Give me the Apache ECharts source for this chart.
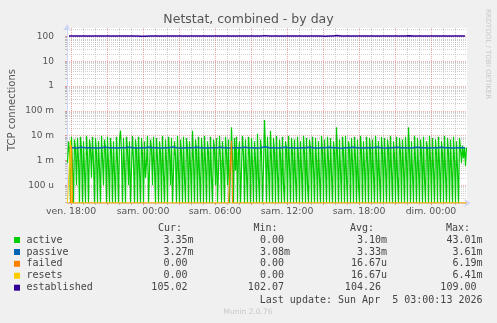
<!DOCTYPE html>
<html><head><meta charset="utf-8">
<script src="https://cdn.jsdelivr.net/npm/echarts@6/dist/echarts.min.js"></script>
<style>html,body{margin:0;padding:0;background:#f0f0f0}#c{width:497px;height:323px}</style>
</head><body><div id="c"></div>
<script>
// ---------------- data ----------------
// x axis in hours since Friday 00:00; one sample every 5 minutes
const sampleStepHours = 5 / 60;
const timeStart = 17 + 40 / 60;   // Fri 17:40
const timeEnd = 51;               // Sun 03:00

const xTickValues = [18, 24, 30, 36, 42, 48];
const xTickLabels = ['ven. 18:00', 'sam. 00:00', 'sam. 06:00', 'sam. 12:00', 'sam. 18:00', 'dim. 00:00'];
const yTickValues = [1e-4, 1e-3, 1e-2, 1e-1, 1, 10, 100];
const yTickLabels = ['100 u', '1 m', '10 m', '100 m', '1', '10', '100'];

// active connections per second, in milli-units, 5-min samples (400)
const activeMilli = [
0.8,6,2,0,9,0.5,0,7,3,0.1,
8,1,0,9,2.5,0,6,0.4,0,10,
1.5,0,7,3,0.2,9,0.8,0,8,2,
0,6,0.5,0,10,1.2,0.1,7,3,0,
9,0.6,0,8,2,0,6,0.3,0,9,
1,0,7,16,2,0,8,0.5,0,9,
3,0.1,6,0,0,10,1,0,7,2.5,
0,9,0.4,0,8,1.8,0,6,0.2,0.8,
10,0,0,7,3,0.1,9,0.5,0,8,
1.2,0,6,2,0,10,0.3,0,7,1,
0,9,2.2,0.1,8,0,0,6,1.5,0,
10,0.4,0,7,2,0,9,0.2,0,8,
3,0,6,0.6,0,16,1,0,7,2.4,
0,9,0.3,0,8,1.5,0,10,0.8,0,
6,2,0,9,0.2,0,7,3,0.1,8,
0,0,10,1,0,6,0.5,0,9,2,
0.1,7,0,0.5,22,1.2,0,8,0.4,9,
0,2,6,0,0,10,1.8,0,7,0.3,
0,9,2,0,8,0.6,0,6,1,0,
12,0.2,0,7,2.6,0,0.5,43,3,0,
9,0.4,0,16,1,0,8,2,0,10,
0.3,0,7,1.5,0,9,0.1,0,6,3,
0,10,0.7,0,8,2,0,7,0.2,0,
9,1.2,0,6,0.4,0,10,2,0,8,
0.1,0,7,3,0,9,0.5,0,8,1,
0,6,0.2,0,10,2.2,0,7,0.6,0,
9,1,0,8,0.3,0,6,2,0,22,
1.5,0,7,0.4,0,9,2,0,10,0.2,
0,6,3,0,8,0.8,0,9,1.2,0,
7,0.1,0,10,2,0,6,0.5,0,9,
1,0,8,2.5,0,7,0.3,0,10,1.6,
0,6,0.2,0,9,2,0,8,0.6,0,
7,3,0,10,0.4,0,6,1.4,0,9,
0.2,0,8,2,0,7,0.5,0,9,1,
0,22,2.4,0,6,0.3,0,10,1,0,
8,0.5,0,7,2,0,9,0.2,0,6,
3,0,10,1,0,8,0.4,0,7,2,
0,9,0.6,0,6,1.8,0,10,0.3,0,
8,2,0,7,0.5,0,9,1,0,6,
0.4,0,8,3,0.8,4,1.2,3.5,0.6,3.35
];

// passive, milli-units, 20-min samples (100)
const passiveMilli = [
3.3,3.3,3.2,3.4,3.3,3.3,3.3,3.2,3.3,3.4,
3.3,3.3,3.2,3.3,3.3,3.4,3.3,3.2,3.3,3.3,
3.4,3.3,3.3,3.2,3.3,3.3,3.5,3.3,3.2,3.3,
3.3,3.3,3.4,3.3,3.2,3.3,3.3,3.3,3.4,3.3,
3.2,3.3,3.3,3.3,3.4,3.3,3.3,3.2,3.3,3.6,
3.3,3.3,3.2,3.3,3.4,3.3,3.3,3.2,3.3,3.3,
3.4,3.3,3.2,3.3,3.3,3.4,3.3,3.3,3.1,3.3,
3.3,3.4,3.3,3.2,3.3,3.3,3.3,3.4,3.3,3.2,
3.3,3.3,3.4,3.3,3.3,3.2,3.3,3.4,3.3,3.3,
3.2,3.3,3.3,3.4,3.3,3.3,3.2,3.3,3.3,3.27
];

// established, 20-min samples (100)
const establishedVals = [
104.2,104.5,103.9,104.1,104.6,104.0,103.8,104.3,104.4,104.1,
103.7,104.0,104.2,104.5,104.1,103.9,104.3,104.0,102.9,103.6,
104.1,104.4,104.2,103.8,104.0,104.3,104.6,104.1,103.9,104.2,
104.0,104.5,104.3,103.7,104.1,104.2,104.4,104.0,103.9,104.3,
104.5,104.1,104.0,104.2,103.8,104.4,104.3,104.1,104.0,108.5,
104.6,104.2,103.9,104.1,104.3,104.0,104.5,104.2,103.8,104.1,
104.3,104.4,104.0,104.2,102.1,104.1,104.3,109.0,104.4,104.0,
104.2,104.1,103.9,104.3,104.5,104.0,104.2,104.1,103.8,104.4,
104.3,104.0,104.2,104.5,104.1,107.8,104.3,104.0,104.2,104.4,
104.1,103.9,104.3,104.5,104.2,104.0,104.4,104.6,104.8,105.02
];

// failed / resets: non-zero 5-min samples (index, milli-units); all others are 0
const failedIdx = [4, 164];
const failedMilli = [4.0, 6.19];
const resetsIdx = [3];
const resetsMilli = [6.41];

// legend table
const seriesNames = ['active', 'passive', 'failed', 'resets', 'established'];
const seriesColors = ['#00CC00', '#0066B3', '#FF8000', '#FFCC00', '#330099'];
const statCur = ['3.35m', '3.27m', '0.00 ', '0.00 ', '105.02 '];
const statMin = ['0.00 ', '3.08m', '0.00 ', '0.00 ', '102.07 '];
const statAvg = ['3.10m', '3.33m', '16.67u', '16.67u', '104.26 '];
const statMax = ['43.01m', '3.61m', '6.19m', '6.41m', '109.00 '];
const statHeaders = ['Cur:', 'Min:', 'Avg:', 'Max:'];

// ---------------- chart ----------------
const Y_MIN = -4.713, Y_MAX = 2.343;        // log10 extent of the plot
const FLOOR = Math.pow(10, Y_MIN);
const lg = v => Math.log10(Math.max(v, FLOOR));

const fineCount = activeMilli.length;
const tFine = i => timeStart + (i + 0.5) * sampleStepHours;
const tCoarse = j => timeStart + (4 * j + 2) * sampleStepHours;

const activeData = activeMilli.map((v, i) => [tFine(i), lg(v / 1000)]);
const passiveData = passiveMilli.map((v, j) => [tCoarse(j), lg(v / 1000)]);
const establishedData = establishedVals.map((v, j) => [tCoarse(j), lg(v)]);
function expand(idx, vals) {
  const arr = new Array(fineCount).fill(0);
  idx.forEach((k, n) => { arr[k] = vals[n]; });
  return arr.map((v, i) => [tFine(i), lg(v / 1000)]);
}
const failedData = expand(failedIdx, failedMilli);
const resetsData = expand(resetsIdx, resetsMilli);

// grid positions (log values)
const yMajor = yTickValues.map(v => Math.log10(v));
const yMinor = [];
for (let e = -5; e <= 2; e++) for (let k = 2; k <= 9; k++) {
  const l = Math.log10(k * Math.pow(10, e));
  if (l > Y_MIN && l < Y_MAX) yMinor.push(l);
}
const xMajor = [], xMinor = [];
for (let h = 18; h <= 50; h++) { if (h % 3 === 0) xMajor.push(h); else xMinor.push(h); }

const FONT = 'DejaVu Sans', MONO = 'DejaVu Sans Mono';
const MAJ = 'rgba(226,110,110,0.55)', MIN = 'rgba(150,150,150,0.45)', AXIS = '#CFD6F8';

const chart = echarts.init(document.getElementById('c'), null, { renderer: 'canvas' });

const grid = { left: 67, top: 28, width: 400, height: 175, show: true, backgroundColor: '#ffffff', borderWidth: 0 };

const xBase = { type: 'value', min: timeStart, max: timeEnd, position: 'bottom', gridIndex: 0 };
const yBase = { type: 'value', min: Y_MIN, max: Y_MAX, position: 'left', gridIndex: 0 };

const graphics = [];
graphics.push({ type: 'text', x: 12, y: 110, rotation: Math.PI / 2,
  style: { text: 'TCP connections', font: '10px ' + FONT, fill: '#555', align: 'center', verticalAlign: 'middle' } });
graphics.push({ type: 'text', x: 488, y: 54, rotation: -Math.PI / 2,
  style: { text: 'RRDTOOL / TOBI OETIKER', font: '7px ' + FONT, fill: '#c8c8c8', align: 'center', verticalAlign: 'middle' } });
const colRight = [193.5, 290, 387, 482.5];
const headRight = [182, 277.5, 374, 470];
statHeaders.forEach((h, c) => graphics.push({ type: 'text', x: headRight[c], y: 228,
  style: { text: h, font: '10px ' + MONO, fill: '#444', align: 'right', verticalAlign: 'middle' } }));
const rowY = [240, 252, 263.8, 275.7, 287.7];
seriesNames.forEach((name, r) => {
  graphics.push({ type: 'rect', shape: { x: 14, y: rowY[r] - 3, width: 6, height: 6 }, style: { fill: seriesColors[r] } });
  graphics.push({ type: 'text', x: 26.5, y: rowY[r],
    style: { text: name, font: '10px ' + MONO, fill: '#444', align: 'left', verticalAlign: 'middle' } });
  [statCur, statMin, statAvg, statMax].forEach((col, c) => graphics.push({ type: 'text', x: colRight[c], y: rowY[r],
    style: { text: col[r], font: '10px ' + MONO, fill: '#444', align: 'right', verticalAlign: 'middle' } }));
});
graphics.push({ type: 'text', x: 482.5, y: 300,
  style: { text: 'Last update: Sun Apr  5 03:00:13 2026', font: '10px ' + MONO, fill: '#444', align: 'right', verticalAlign: 'middle' } });
graphics.push({ type: 'text', x: 248, y: 312,
  style: { text: 'Munin 2.0.76', font: '7.5px ' + FONT, fill: '#c8c8c8', align: 'center', verticalAlign: 'middle' } });

const lineS = (name, data, color, w) => ({
  name, type: 'line', data, xAxisIndex: 1, yAxisIndex: 1, showSymbol: false, symbol: 'none',
  lineStyle: { color, width: w }, itemStyle: { color }, clip: true, animation: false, silent: true
});

chart.setOption({
  animation: false,
  backgroundColor: '#f0f0f0',
  title: { text: 'Netstat, combined - by day', left: 'center', top: 8,
    textStyle: { fontFamily: FONT, fontSize: 12.5, fontWeight: 'normal', color: '#555' } },
  grid,
  xAxis: [
    Object.assign({}, xBase, {
      axisLine: { show: false, onZero: false }, axisLabel: { show: false },
      axisTick: { show: true, length: 2, customValues: xMinor, lineStyle: { color: '#bbb' } },
      splitLine: { show: true, lineStyle: { color: MIN, width: 1, type: [1, 1] } }
    }),
    Object.assign({}, xBase, {
      axisLine: { show: true, onZero: false, lineStyle: { color: AXIS, width: 1 }, symbol: ['none', 'arrow'], symbolSize: [6, 7], symbolOffset: [0, 4] },
      axisTick: { show: true, length: 2, customValues: xMajor, lineStyle: { color: '#e09090' } },
      axisLabel: { show: true, customValues: xTickValues, margin: 4, fontFamily: FONT, fontSize: 9.4, color: '#555',
        formatter: v => { const i = xTickValues.findIndex(t => Math.abs(t - v) < 1e-6); return i >= 0 ? xTickLabels[i] : ''; } },
      splitLine: { show: true, lineStyle: { color: MAJ, width: 1, type: [1, 1] } }
    })
  ],
  yAxis: [
    Object.assign({}, yBase, {
      axisLine: { show: false, onZero: false }, axisLabel: { show: false },
      axisTick: { show: true, length: 2, customValues: yMinor, lineStyle: { color: '#bbb' } },
      splitLine: { show: true, lineStyle: { color: MIN, width: 1, type: [1, 1] } }
    }),
    Object.assign({}, yBase, {
      axisLine: { show: true, onZero: false, lineStyle: { color: AXIS, width: 1 }, symbol: ['none', 'arrow'], symbolSize: [6, 7], symbolOffset: [0, 4] },
      axisTick: { show: true, length: 2, customValues: yMajor, lineStyle: { color: '#e09090' } },
      axisLabel: { show: true, customValues: yMajor, margin: 13, fontFamily: FONT, fontSize: 9, color: '#555',
        formatter: v => { const i = yMajor.findIndex(t => Math.abs(t - v) < 1e-6); return i >= 0 ? yTickLabels[i] : ''; } },
      splitLine: { show: true, lineStyle: { color: MAJ, width: 1, type: [1, 1] } }
    })
  ],
  series: [
    lineS('active', activeData, seriesColors[0], 1.2),
    lineS('passive', passiveData, seriesColors[1], 1.5),
    lineS('failed', failedData, seriesColors[2], 1),
    lineS('resets', resetsData, seriesColors[3], 1),
    lineS('established', establishedData, seriesColors[4], 1.5)
  ],
  graphic: graphics
});
</script></body></html>
